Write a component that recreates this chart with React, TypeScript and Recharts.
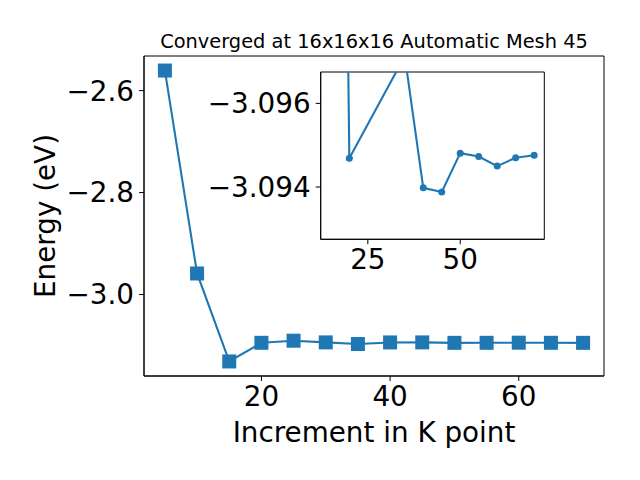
import React from "react";
import {
  LineChart,
  Line,
  XAxis,
  YAxis,
  ReferenceArea,
  Label,
} from "recharts";

// main series
const kPoints = [5, 10, 15, 20, 25, 30, 35, 40, 45, 50, 55, 60, 65, 70];
const energy = [
  -2.5606, -2.9587, -3.1313, -3.0947, -3.0906, -3.0939, -3.0971, -3.094,
  -3.0939, -3.0948, -3.0947, -3.0945, -3.0947, -3.0948,
];

// inset (zoomed) series
const insetK = [15, 20, 35, 40, 45, 50, 55, 60, 65, 70];
const insetEnergy = [
  -3.1313, -3.09469, -3.09713, -3.09398, -3.09388, -3.09481, -3.09473,
  -3.0945, -3.0947, -3.09476,
];

const xTicks = [20, 40, 60];
const yTicks = [-3.0, -2.8, -2.6];
const insetXTicks = [25, 50];
const insetYTicks = [-3.096, -3.094];

const title = "Converged at 16x16x16 Automatic Mesh 45";
const xLabel = "Increment in K point";
const yLabel = "Energy (eV)";

const mainData = kPoints.map((k, i) => ({ k, e: energy[i] }));
const insetData = insetK.map((k, i) => ({ k, e: insetEnergy[i] }));

const BLUE = "#1f77b4";
const FONT = "DejaVu Sans";
const TICK_FONT = 27.8;

const xDomain = [1.75, 73.25];
const yDomain = [-3.15984, -2.53206];
const insetXDomain = [12.25, 72.75];
const insetYDomain = [-3.09675, -3.09275];

const minus = (s: string) => s.replace("-", "\u2212");

const tickStyle = { fontSize: TICK_FONT, fontFamily: FONT, fill: "#000" };

function Square(props: any) {
  const { cx, cy, index } = props;
  if (cx == null || cy == null) return <g key={`sq-${index}`} />;
  return (
    <rect
      key={`sq-${index}`}
      x={cx - 7}
      y={cy - 7}
      width={14}
      height={14}
      fill={BLUE}
    />
  );
}

export default function App() {
  return (
    <div style={{ position: "absolute", left: 0, top: 0, width: 640, height: 480, background: "#fff" }}>
      <div style={{ position: "absolute", left: 0, top: 0 }}>
        <LineChart
          width={640}
          height={480}
          data={mainData}
          margin={{ top: 56, right: 36, left: 0, bottom: 0 }}
        >
          <XAxis
            dataKey="k"
            type="number"
            domain={xDomain}
            ticks={xTicks}
            height={104}
            tickSize={5}
            tickMargin={5}
            stroke="#000"
            tick={tickStyle}
          >
            <Label
              content={() => (
                <text
                  x={374}
                  y={442}
                  textAnchor="middle"
                  fontSize={TICK_FONT}
                  fontFamily={FONT}
                  fill="#000"
                >
                  {xLabel}
                </text>
              )}
            />
          </XAxis>
          <YAxis
            type="number"
            domain={yDomain}
            ticks={yTicks}
            width={144}
            tickSize={5}
            tickMargin={5}
            stroke="#000"
            tick={tickStyle}
            tickFormatter={(v: number) => minus(v.toFixed(1))}
          >
            <Label
              content={() => (
                <text
                  x={55}
                  y={216}
                  transform="rotate(-90 55 216)"
                  textAnchor="middle"
                  fontSize={TICK_FONT}
                  fontFamily={FONT}
                  fill="#000"
                >
                  {yLabel}
                </text>
              )}
            />
          </YAxis>
          <Line
            dataKey="e"
            stroke={BLUE}
            strokeWidth={2.1}
            strokeLinejoin="round"
            dot={Square}
            activeDot={false}
            isAnimationActive={false}
          />
          <ReferenceArea
            x1={xDomain[0]}
            x2={xDomain[1]}
            y1={yDomain[0]}
            y2={yDomain[1]}
            fill="none"
            stroke="#000"
            strokeWidth={1}
          />
        </LineChart>
      </div>
      <svg
        width={640}
        height={60}
        style={{ position: "absolute", left: 0, top: 0 }}
      >
        <text
          x={374}
          y={48}
          textAnchor="middle"
          fontSize={19.4}
          fontFamily={FONT}
          fill="#000"
        >
          {title}
        </text>
      </svg>
      <div style={{ position: "absolute", left: 0, top: 0, pointerEvents: "none" }}>
        <LineChart
          width={640}
          height={480}
          data={insetData}
          margin={{ top: 72, right: 95.7, left: 0, bottom: 200.7 }}
        >
          <XAxis
            dataKey="k"
            type="number"
            domain={insetXDomain}
            ticks={insetXTicks}
            allowDataOverflow
            height={40}
            tickSize={5}
            tickMargin={5}
            stroke="#000"
            tick={tickStyle}
          />
          <YAxis
            type="number"
            domain={insetYDomain}
            ticks={insetYTicks}
            allowDataOverflow
            reversed
            width={320.7}
            tickSize={5}
            tickMargin={5}
            stroke="#000"
            tick={tickStyle}
            tickFormatter={(v: number) => minus(v.toFixed(3))}
          />
          <ReferenceArea
            x1={insetXDomain[0]}
            x2={insetXDomain[1]}
            y1={insetYDomain[0]}
            y2={insetYDomain[1]}
            fill="#fff"
            fillOpacity={1}
            stroke="#000"
            strokeWidth={1}
          />
          <Line
            dataKey="e"
            stroke={BLUE}
            strokeWidth={2.1}
            strokeLinejoin="round"
            dot={{ r: 3.5, fill: BLUE, stroke: BLUE, strokeWidth: 0 }}
            activeDot={false}
            isAnimationActive={false}
          />
        </LineChart>
      </div>
    </div>
  );
}
